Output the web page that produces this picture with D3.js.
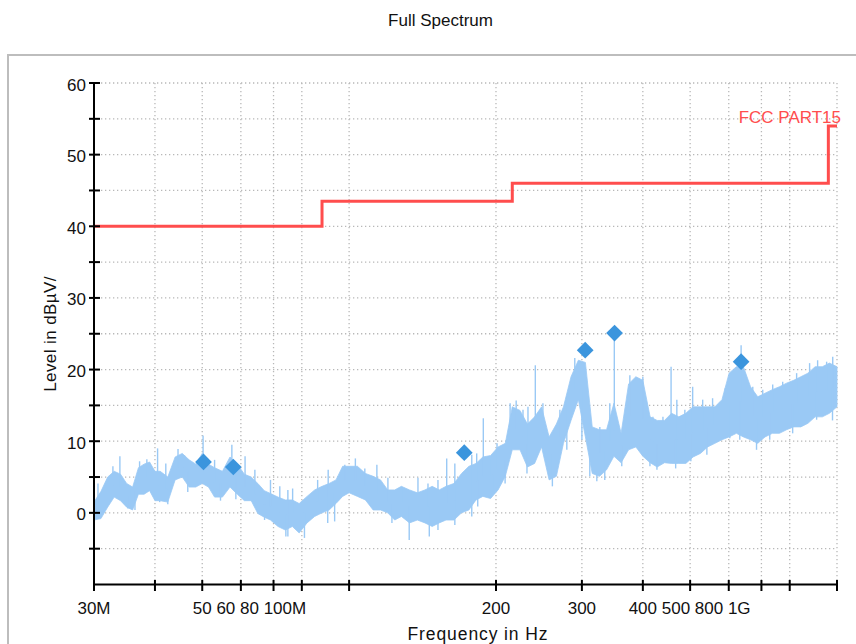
<!DOCTYPE html>
<html><head><meta charset="utf-8">
<script src="https://cdn.jsdelivr.net/npm/d3@7"></script>
<style>
body{margin:0;background:#fff;}
text{font-family:"Liberation Sans",Arial,Helvetica,sans-serif;fill:#111;}
</style>
</head><body>
<svg id="chart" width="856" height="644"></svg>
<script>
// ---------- data ----------
const chartTitle = "Full Spectrum";
const xTitle = "Frequency in Hz";
const yTitle = "Level in dBµV/";
const limitName = "FCC PART15";

// y axis ticks (dBµV)
const yTicks = [-5, 0, 5, 10, 15, 20, 25, 30, 35, 40, 45, 50, 55, 60];
const yLabelTicks = [0, 10, 20, 30, 40, 50, 60];

// x axis ticks (MHz)
const xTicks = [30, 40, 50, 60, 70, 80, 100, 200, 300, 400, 500, 600, 700, 800, 1000];
// tick label runs: first label centred on its tick, the rest follow it
const xLabelRunAt = [30, 50, 200, 300, 400];
const xLabelRuns = [["30M"], ["50", "60", "80", "100M"], ["200"], ["300"], ["400", "500", "800", "1G"]];

// FCC Part 15 limit (step after)
const limitFreq = [30, 88, 216, 960, 1000];
const limitLevel = [40, 43.5, 46, 54, 54];

// measured spectrum envelope (MHz, dBµV)
const traceFreq = [30,31,32,33,34,35,36,37,38,39,40,41,42.5,44,45.5,47,48.5,50,51.5,53,
  55,57,59,61,63,65,67,69,71.5,74,76.5,79,82,85,88,91,94,97,100,104,
  108,112,116,120,124,128,133,138,143,148,153,158,164,170,176,182,188,195,202,209,
  216,224,232,240,248,257,266,275,285,295,305,315,326,337,349,361,374,387,400,414,
  428,443,458,474,490,507,525,543,562,581,601,622,643,665,688,712,737,762,788,815,
  843,872,902,933,965,1000];
const traceLow = [-1,-0.8,0.8,2.2,1.7,0.8,0.4,2.6,2.6,3.1,1.7,1.7,1.5,4.6,5.0,3.6,3.6,4.1,3.6,2.2,
  2.2,3.6,2.6,1.7,1.7,-0.1,-0.6,-1.0,-1.9,-2.4,-1.9,-2.8,-1.4,-0.5,0,0.4,1.3,2.3,2.8,2.3,
  1.8,0.4,0.4,0,-1.0,-0.5,-1.4,-1.0,-1.4,-1.9,-1.4,-1.0,-1.0,0,0.4,1.8,2.3,2.0,3.2,5.1,
  8.8,8.8,6.4,6.9,9.2,4.6,5.1,9.7,12.9,15.8,10.6,5.5,5.1,6.0,7.9,7.0,8.8,9.2,7.9,7.0,
  6.4,7.0,6.9,6.9,6.9,7.8,8.3,9.2,9.7,10.2,10.6,11.1,10.6,10.2,9.7,10.6,11.1,11.1,11.6,12.0,
  12.0,12.5,13.4,13.4,13.9,14.8];
const traceHigh = [1.5,3.0,5.0,5.8,5.4,4.1,3.6,6.3,6.8,7.1,5.8,5.8,5.0,7.8,8.3,7.4,6.8,8.3,6.8,6.3,
  5.8,7.8,6.8,5.4,5.0,4.1,3.1,2.7,2.2,1.8,1.8,1.3,2.3,3.2,3.7,4.1,4.6,6.5,6.5,6.5,
  5.5,5.1,4.6,3.2,3.2,3.7,3.2,2.8,3.2,3.7,3.2,3.7,4.1,5.5,6.5,6.9,7.8,8.0,9.2,9.7,
  14.8,14.3,12.4,13.4,14.8,10.6,12.4,14.8,19.0,21.3,21.0,12.0,11.6,11.6,15.3,11.1,18.0,19.0,18.5,13.4,
  12.9,12.9,13.9,13.4,13.9,14.8,14.8,14.8,14.8,15.8,19.5,20.4,20.4,17.6,16.2,16.7,17.2,17.6,18.1,18.5,
  19.0,19.5,20.4,20.4,20.9,20.4];
// isolated spikes of the trace (MHz, dBµV), upward and downward
const spikeFreq = [
  30.57,32.8,33.9,35.7,37.2,38.5,40.5,42.1,44.6,46.0,50.2,53.0,57.5,61.2,64.1,69.0,72.1,
  35.2,36.4,40.9,42.5,46.7,54.5,58.6,67.1,74.2,
  74.9,76.6,86.2,90.6,98.0,103,107.7,114,120.1,128.3,138.4,145.1,152.1,158.5,164.7,178.4,182.6,188.4,194.0,
  74.9,81,90.4,93.4,112.9,122.4,132.8,146,152.1,164.7,178.4,183.5,
  201.0,213.8,220,227.2,232.6,240.8,249.6,270.4,279.4,290.1,311.4,326.5,342.2,349.6,376.2,400,419.5,439.8,457,
  197.3,208.8,231.5,261,279.4,300,311.4,321.9,334.2,362.1,413.6,427.5,
  469.6,487.7,506,530.5,555.9,590,636,672,704.3,738.3,773.9,826.5,878.7,912.6,952.2,980,
  467,501.7,541.1,603,632,684,728,811.2,908.3,979];
const spikeLevel = [
  4.1,6.5,7.9,3.4,7.2,7.5,9.0,6.9,8.9,8.0,10.8,7.4,9.5,7.9,6.0,4.6,3.7,
  0.6,0.4,1.5,1.2,2.9,1.7,1.9,-1.0,-3.3,
  3.2,3.4,4.6,6.0,6.7,7.6,6.2,6.7,4.9,3.4,4.9,4.1,4.6,7.6,6.9,8.1,8.3,13.2,7.6,
  -3.3,-3.5,-1.4,-1.2,0.4,-1.4,-3.8,-3.3,-2.4,-1.7,-0.5,0.9,
  9.7,15.3,15.7,14.4,14.8,20.6,15.3,14.4,16.2,21.6,12.5,12.0,15.3,25.0,19.2,19.0,13.4,13.4,20.4,
  3.2,4.1,5.5,3.7,8.8,10.2,5.1,4.4,4.6,6.5,6.5,6.0,
  15.8,14.4,17.6,15.8,16.0,17.4,23.4,17.6,17.2,17.9,18.3,19.5,20.9,21.3,21.1,21.8,
  6.2,7.2,8.1,10.4,10.2,8.8,10.2,11.1,13.0,12.9];

// final peak markers (MHz, dBµV)
const markerFreq = [50.3, 57.9, 172.2, 304.7, 350, 636];
const markerLevel = [7.1, 6.4, 8.4, 22.7, 25.1, 21.1];

// ---------- drawing ----------
const W = 856, H = 644;
const svg = d3.select("#chart");
const x = d3.scaleLog().domain([30, 1000]).range([94, 837]);
const y = d3.scaleLinear().domain([-10, 60]).range([584.5, 83]);

const traceColor = "#9ac9f5", limitColor = "#ff4d4d", markerColor = "#3b95dd", gridColor = "#b8b8b8";

// frame
svg.append("rect").attr("x", 8).attr("y", 55).attr("width", W + 20).attr("height", H)
  .attr("fill", "#fff").attr("stroke", "#bdbdbd").attr("stroke-width", 2);

// title
svg.append("text").attr("x", 440.5).attr("y", 26).attr("text-anchor", "middle")
  .style("font-size", "17px").text(chartTitle);

// grid
const grid = svg.append("g").attr("stroke", gridColor).attr("stroke-width", 1.3)
  .attr("stroke-dasharray", "1.3,2.7");
grid.selectAll("line.h").data(yTicks).join("line").attr("class", "h")
  .attr("x1", x(30) + 7).attr("x2", x(1000)).attr("y1", d => y(d)).attr("y2", d => y(d));
grid.selectAll("line.v").data(xTicks.slice(1)).join("line").attr("class", "v")
  .attr("x1", d => x(d)).attr("x2", d => x(d)).attr("y1", y(60)).attr("y2", y(-10) - 4);

// trace band
const band = traceFreq.map((f, i) => ({f, lo: traceLow[i], hi: traceHigh[i]}));
svg.append("path").datum(band)
  .attr("fill", traceColor).attr("stroke", traceColor).attr("stroke-width", 0.8)
  .attr("d", d3.area().x(d => x(d.f)).y0(d => y(d.lo)).y1(d => y(d.hi)));

// spikes
const bis = d3.bisector(d => d.f).left;
function midAt(f) {
  const i = Math.max(1, Math.min(band.length - 1, bis(band, f)));
  const a = band[i - 1], b = band[i];
  const t = (Math.log(f) - Math.log(a.f)) / (Math.log(b.f) - Math.log(a.f));
  return ((a.lo + a.hi) / 2) * (1 - t) + ((b.lo + b.hi) / 2) * t;
}
svg.append("g").attr("stroke", traceColor).attr("stroke-width", 1.4)
  .selectAll("line").data(spikeFreq.map((f, i) => ({f, v: spikeLevel[i]}))).join("line")
  .attr("x1", d => x(d.f)).attr("x2", d => x(d.f))
  .attr("y1", d => y(midAt(d.f))).attr("y2", d => y(d.v));

// limit line
const limitPts = limitFreq.map((f, i) => ({f, v: limitLevel[i]}));
svg.append("path").datum(limitPts).attr("fill", "none").attr("stroke", limitColor)
  .attr("stroke-width", 3)
  .attr("d", d3.line().x(d => x(d.f)).y(d => y(d.v)).curve(d3.curveStepAfter));
svg.append("text").attr("x", x(1000) + 4).attr("y", 123.3).attr("text-anchor", "end")
  .style("font-size", "17px").style("fill", limitColor).text(limitName);

// markers
svg.append("g").selectAll("path").data(markerFreq.map((f, i) => ({f, v: markerLevel[i]}))).join("path")
  .attr("d", d3.symbol(d3.symbolSquare, 140))
  .attr("transform", d => `translate(${x(d.f)},${y(d.v)}) rotate(45)`)
  .attr("fill", markerColor);

// axes
const ax = svg.append("g").attr("stroke", "#000").attr("stroke-width", 2);
ax.append("line").attr("x1", x(30)).attr("x2", x(30)).attr("y1", y(60) - 1).attr("y2", y(-10) + 6.5);
ax.append("line").attr("x1", x(30) - 1).attr("x2", x(1000)).attr("y1", y(-10)).attr("y2", y(-10));
ax.selectAll("line.yt").data(yTicks).join("line").attr("class", "yt")
  .attr("x1", x(30) - 5).attr("x2", x(30) + 6).attr("y1", d => y(d)).attr("y2", d => y(d));
ax.selectAll("line.xt").data(xTicks.slice(1)).join("line").attr("class", "xt")
  .attr("x1", d => x(d)).attr("x2", d => x(d)).attr("y1", y(-10) - 4.5).attr("y2", y(-10) + 6.5);

// y tick labels
svg.append("g").selectAll("text").data(yLabelTicks).join("text")
  .attr("x", x(30) - 8).attr("y", d => y(d) + 7.5).attr("text-anchor", "end")
  .style("font-size", "17px").text(d => d);

// x tick labels (runs)
const xl = svg.append("g");
xLabelRuns.forEach((run, i) => {
  const probe = xl.append("text").style("font-size", "17px").text(run[0]);
  const w0 = probe.node().getComputedTextLength();
  probe.remove();
  xl.append("text").attr("x", x(xLabelRunAt[i]) - w0 / 2).attr("y", 614)
    .attr("text-anchor", "start").style("font-size", "17px").style("white-space", "pre")
    .text(run.join(" "));
});

// axis titles
svg.append("text").attr("x", 478).attr("y", 639.5).attr("text-anchor", "middle")
  .style("font-size", "17.5px").style("letter-spacing", "0.9px").text(xTitle);
svg.append("text").attr("transform", `translate(55.5,334) rotate(-90)`).attr("text-anchor", "middle")
  .style("font-size", "17px").style("letter-spacing", "0.4px").text(yTitle);
</script>
</body></html>
